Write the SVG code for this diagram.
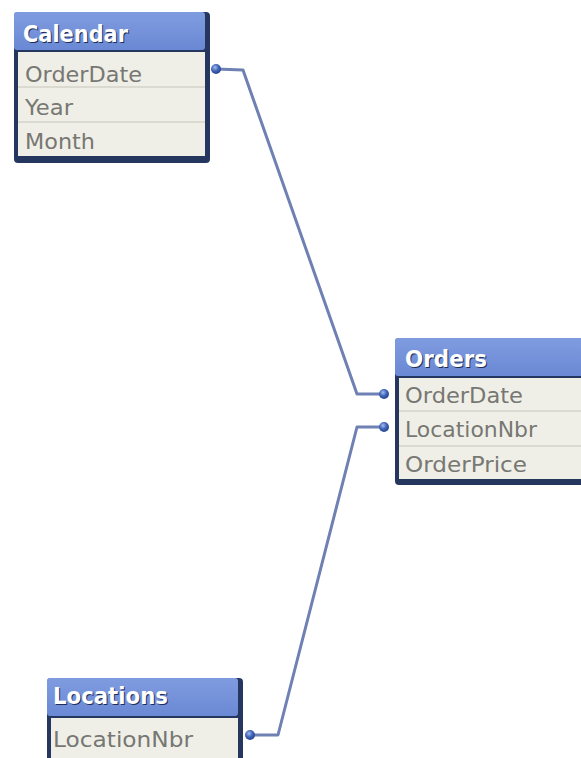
<svg xmlns="http://www.w3.org/2000/svg" width="581" height="758" viewBox="0 0 581 758">
  <defs>
    <linearGradient id="hdr" x1="0" y1="0" x2="0" y2="1">
      <stop offset="0" stop-color="#809ce0"/>
      <stop offset="1" stop-color="#6a89d4"/>
    </linearGradient>
    <radialGradient id="dot" cx="0.4" cy="0.35" r="0.7">
      <stop offset="0" stop-color="#a6bcef"/>
      <stop offset="0.5" stop-color="#4165b8"/>
      <stop offset="1" stop-color="#23408a"/>
    </radialGradient>
  </defs>
  <style>
    .frame { fill: #26375f; }
    .head { fill: url(#hdr); }
    .rows { fill: #efefe7; }
    .sep { stroke: #d3d3ca; stroke-width: 1.5; }
    .title { font-family: "DejaVu Sans", "Liberation Sans", sans-serif; font-weight: bold; font-size: 23px; fill: #ffffff; }
    .shadow { font-family: "DejaVu Sans", "Liberation Sans", sans-serif; font-weight: bold; font-size: 23px; fill: #1e2d55; }
    .field { font-family: "DejaVu Sans", "Liberation Sans", sans-serif; font-size: 22px; fill: #777773; }
    .link { fill: none; stroke: #6f80b3; stroke-width: 3; stroke-linejoin: round; }
    .end { fill: url(#dot); }
  </style>

  <!-- Calendar table -->
  <g id="calendar">
    <rect class="frame" x="14" y="12" width="196" height="151" rx="4"/>
    <rect class="head" x="14" y="12" width="191" height="38" rx="3"/>
    <rect class="rows" x="18" y="52" width="187" height="104"/>
    <line class="sep" x1="18" y1="87" x2="205" y2="87"/>
    <line class="sep" x1="18" y1="122" x2="205" y2="122"/>
    <text class="shadow" x="24" y="43" textLength="105" lengthAdjust="spacingAndGlyphs">Calendar</text>
    <text class="title" x="23" y="42" textLength="105" lengthAdjust="spacingAndGlyphs">Calendar</text>
    <text class="field" x="25" y="82" textLength="117" lengthAdjust="spacingAndGlyphs">OrderDate</text>
    <text class="field" x="25" y="115" textLength="48" lengthAdjust="spacingAndGlyphs">Year</text>
    <text class="field" x="25" y="149" textLength="70" lengthAdjust="spacingAndGlyphs">Month</text>
  </g>

  <!-- Orders table -->
  <g id="orders">
    <rect class="frame" x="395" y="338" width="200" height="147" rx="4"/>
    <rect class="head" x="395" y="338" width="200" height="38" rx="3"/>
    <rect class="rows" x="399" y="378" width="196" height="101"/>
    <line class="sep" x1="399" y1="411" x2="581" y2="411"/>
    <line class="sep" x1="399" y1="446" x2="581" y2="446"/>
    <text class="shadow" x="406" y="368" textLength="82" lengthAdjust="spacingAndGlyphs">Orders</text>
    <text class="title" x="405" y="367" textLength="82" lengthAdjust="spacingAndGlyphs">Orders</text>
    <text class="field" x="405" y="403" textLength="118" lengthAdjust="spacingAndGlyphs">OrderDate</text>
    <text class="field" x="405" y="437" textLength="132" lengthAdjust="spacingAndGlyphs">LocationNbr</text>
    <text class="field" x="405" y="472" textLength="122" lengthAdjust="spacingAndGlyphs">OrderPrice</text>
  </g>

  <!-- Locations table -->
  <g id="locations">
    <rect class="frame" x="47" y="678" width="196" height="86" rx="4"/>
    <rect class="head" x="47" y="678" width="191" height="38" rx="3"/>
    <rect class="rows" x="51" y="718" width="187" height="40"/>
    <text class="shadow" x="54" y="705" textLength="115" lengthAdjust="spacingAndGlyphs">Locations</text>
    <text class="title" x="53" y="704" textLength="115" lengthAdjust="spacingAndGlyphs">Locations</text>
    <text class="field" x="53" y="747" textLength="140" lengthAdjust="spacingAndGlyphs">LocationNbr</text>
  </g>

  <!-- Key links between tables -->
  <g id="connectors">
    <polyline class="link" points="216,69 243,70 357,394 384,394"/>
    <polyline class="link" points="384,427 357,427 278,735 250,735"/>
    <circle class="end" cx="216" cy="69" r="5"/>
    <circle class="end" cx="384" cy="394" r="5"/>
    <circle class="end" cx="384" cy="427" r="5"/>
    <circle class="end" cx="250" cy="735" r="5"/>
  </g>
</svg>
